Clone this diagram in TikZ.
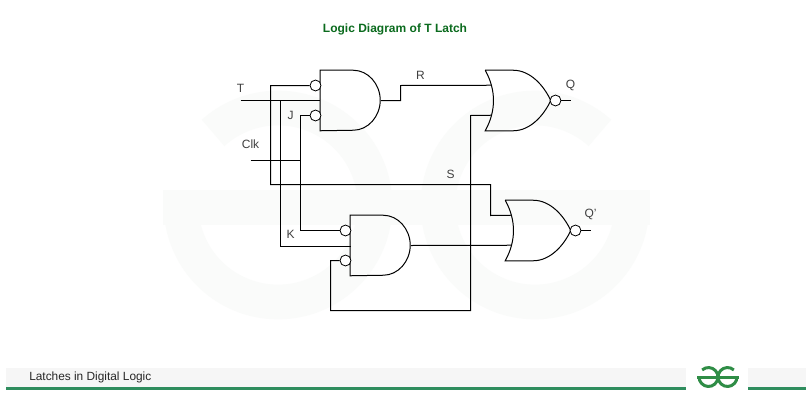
\documentclass[tikz,border=0pt]{standalone}
\usepackage{fontspec}
\setmainfont{Liberation Sans}
\usetikzlibrary{positioning}
\definecolor{gfggreen}{HTML}{2F8D5E}
\definecolor{logogreen}{HTML}{2F8D46}
\definecolor{titlegreen}{HTML}{0B6B1E}
\definecolor{markpale}{HTML}{FAFBFA}
\definecolor{bandgrey}{HTML}{F6F6F6}
\tikzstyle{every node}=[inner sep=0pt]
\tikzstyle{wire}=[draw=black,line width=0.75pt]
\tikzstyle{andbox}=[minimum width=45pt,minimum height=45pt]
\tikzstyle{norbox}=[minimum width=48.75pt,minimum height=45pt]
\tikzstyle{bubble}=[circle,draw=black,fill=white,line width=0.6pt,minimum size=8.2pt]
\tikzstyle{lbl}=[text=black!75,font=\fontsize{9}{11}\selectfont]
\begin{document}
\begin{tikzpicture}[x=0.75pt,y=-0.75pt]
\useasboundingbox (0,0) rectangle (806,400);
\fill[white] (0,0) rectangle (806,400);
% pale mark behind the drawing
\coordinate (markl) at (278,205);
\coordinate (markr) at (535,205);
\draw[markpale,line width=26pt] (markl) ++(132:72.75pt) arc[start angle=132,end angle=-180,radius=72.75pt];
\draw[markpale,line width=26pt] (markr) ++(48:72.75pt) arc[start angle=48,end angle=360,radius=72.75pt];
\fill[markpale] (163,190) rectangle (650,225);
% footer
\fill[bandgrey] (6,368) rectangle (686,387);
\fill[bandgrey] (748,368) rectangle (806,387);
\fill[gfggreen] (6,387) rectangle (686,390);
\fill[gfggreen] (748,387) rectangle (806,390);
\node[anchor=west,text=black!85,font=\fontsize{8.9}{10}\selectfont] (foot) at (29,377) {Latches in Digital Logic};
\coordinate (logol) at (708.5,377);
\coordinate (logor) at (727.5,377);
\draw[logogreen,line width=2.25pt] (logol) ++(132:7.1pt) arc[start angle=132,end angle=-180,radius=7.1pt];
\draw[logogreen,line width=2.25pt] (logor) ++(48:7.1pt) arc[start angle=48,end angle=360,radius=7.1pt];
\draw[logogreen,line width=2.25pt] (697,377) -- (739,377);
\node[font=\bfseries\fontsize{9}{11}\selectfont,text=titlegreen] (title) at (395,29) {Logic Diagram of T Latch};

\begin{scope}[shift={(0.5,0.5)}]
% gates
\node[andbox] (and1) at (350,100) {};
\node[andbox] (and2) at (380,245) {};
\node[norbox] (nor1) at (517.5,100) {};
\node[norbox] (nor2) at (537.5,230) {};
\foreach \g in {and1,and2}
  \draw[wire] (\g.north west) -- ++(33,0) .. controls +(15,0) and +(0,-16) .. ++(27,30)
    .. controls +(0,16) and +(15,0) .. ++(-27,30) -- (\g.south west) -- cycle;
\foreach \g in {nor1,nor2}
  \draw[wire] (\g.north west) -- ++(28,0) .. controls +(17,0) and +(-7,-15) .. (\g.east)
    .. controls +(-7,15) and +(17,0) .. ([shift={(28,0)}]\g.south west) -- (\g.south west)
    .. controls +(11,-20) and +(11,20) .. (\g.north west);
\coordinate (nor1a) at ([shift={(6,15)}]nor1.north west);
\coordinate (nor1b) at ([shift={(6,45)}]nor1.north west);
\coordinate (nor2a) at ([shift={(6,15)}]nor2.north west);
\coordinate (nor2b) at ([shift={(6,45)}]nor2.north west);
\node[bubble] (b1) at (315,85) {};
\node[bubble] (b2) at (315,115) {};
\node[bubble] (b3) at (345,230) {};
\node[bubble] (b4) at (345,260) {};
\node[bubble] (bq) at (555,100) {};
\node[bubble] (bqn) at (575,230) {};

% free ends
\coordinate (tin) at (240,100);
\coordinate (clkin) at (250,160);
\coordinate (qout) at (570,100);
\coordinate (qnout) at (590,230);
\coordinate (and1in) at (and1.west);
\coordinate (and2in) at (350,246);

% wires
\draw[wire] (tin) -- (and1in);
\draw[wire] (280,100) -- (280,246) -- (and2in);
\draw[wire] (b1.west) -- (270,85) -- (270,184) -- (490,184) -- (490,215) -- (nor2a);
\draw[wire] (b2.west) -- (300,115) -- (300,230) -- (b3.west);
\draw[wire] (clkin) -- (300,160);
\draw[wire] (and1.east) -- (400,100) -- (400,85) -- (nor1a);
\draw[wire] (and2.east) -- (nor2b);
\draw[wire] (b4.west) -- (330,260) -- (330,310) -- (470,310) -- (470,115) -- (nor1b);
\draw[wire] (bq.east) -- (qout);
\draw[wire] (bqn.east) -- (qnout);

% labels
\node[lbl] (tl) at (240,88) {T};
\node[lbl] (jl) at (290,115) {J};
\node[lbl] (cl) at (250,144) {Clk};
\node[lbl] (kl) at (290,234) {K};
\node[lbl] (rl) at (420,75) {R};
\node[lbl] (sl) at (450,174) {S};
\node[lbl] (ql) at (570,85) {Q};
\node[lbl] (qnl) at (590,214) {Q'};
\end{scope}
\end{tikzpicture}
\end{document}
